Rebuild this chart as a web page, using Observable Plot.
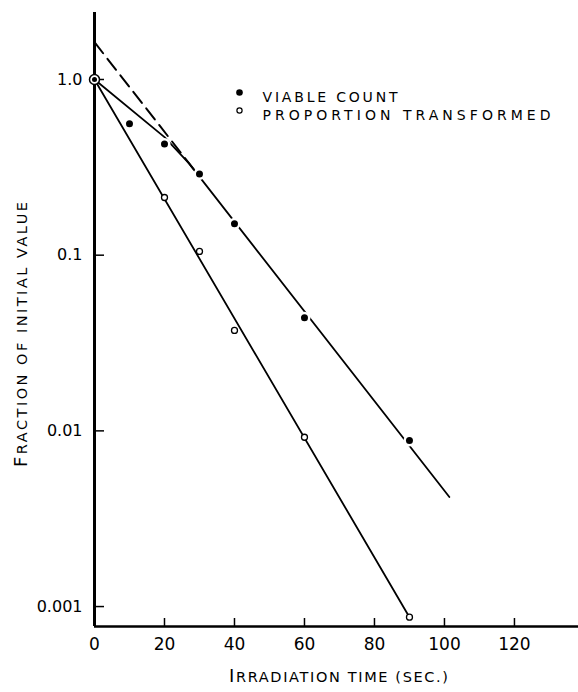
<!DOCTYPE html>
<html><head><meta charset="utf-8">
<script src="https://cdn.jsdelivr.net/npm/d3@7"></script>
<script src="https://cdn.jsdelivr.net/npm/@observablehq/plot@0.6"></script>
<style>
html,body{margin:0;padding:0;background:#fff;}
</style></head><body><div id="chart"></div>
<script>
// measured points
const viableTime  = [0, 10, 20, 30, 40, 60, 90];
const viableValue = [1.0, 0.56, 0.43, 0.29, 0.151, 0.044, 0.0088];
const transTime   = [0, 20, 30, 40, 60, 90];
const transValue  = [1.0, 0.213, 0.105, 0.0373, 0.0092, 0.00087];
// drawn curves
const viableFitTime  = [0, 20, 27, 101.4];
const viableFitValue = [1.0, 0.47, 0.333, 0.0042];
const extrapTime  = [0, 30];
const extrapValue = [1.63, 0.28];
const transFitTime  = [0, 90];
const transFitValue = [1.0, 0.00087];
// axes
const xTicks = [0, 20, 40, 60, 80, 100, 120];
const yTicks = [1, 0.1, 0.01, 0.001];
const yTickLabels = ["1.0", "0.1", "0.01", "0.001"];
const xDomain = [0, 138.3];
const yDomain = [0.00077, 2.406];
const legendLabels = ["VIABLE COUNT", "PROPORTION TRANSFORMED"];
const xTitle = "IRRADIATION TIME (SEC.)";
const yTitle = "FRACTION OF INITIAL VALUE";

const zip = (xs, ys) => xs.map((x, i) => ({x, y: ys[i]}));
const viable = zip(viableTime, viableValue);
const trans = zip(transTime, transValue);
const viableFit = zip(viableFitTime, viableFitValue);
const extrap = zip(extrapTime, extrapValue);
const transFit = zip(transFitTime, transFitValue);

const plot = Plot.plot({
  width: 578, height: 692,
  marginLeft: 94, marginRight: 0, marginTop: 12, marginBottom: 66,
  style: {fontFamily: "DejaVu Sans", background: "white", color: "black", overflow: "visible"},
  x: {domain: xDomain},
  y: {type: "log", domain: yDomain},
  marks: [
    Plot.line(extrap, {x: "x", y: "y", stroke: "black", strokeWidth: 2, strokeDasharray: "14,7"}),
    Plot.line(viableFit, {x: "x", y: "y", stroke: "black", strokeWidth: 1.8}),
    Plot.line(transFit, {x: "x", y: "y", stroke: "black", strokeWidth: 1.8}),
    Plot.ruleX([xDomain[0]], {stroke: "black", strokeWidth: 3}),
    Plot.ruleY([yDomain[0]], {stroke: "black", strokeWidth: 2.5}),
    Plot.axisY({ticks: yTicks, tickSize: 10, dx: 10, fill: "none", label: null, strokeWidth: 1.5}),
    Plot.axisY({ticks: yTicks, tickSize: 0, tickPadding: 12, fontSize: 16, label: null,
      tickFormat: d => yTickLabels[yTicks.indexOf(d)]}),
    Plot.axisX({ticks: xTicks.slice(1), tickSize: 8, dy: -8, fill: "none", label: null, strokeWidth: 1.5}),
    Plot.axisX({ticks: xTicks, tickSize: 0, tickPadding: 11, fontSize: 17, label: null}),
    // white gaps around filled dots
    Plot.dot(viable, {filter: d => d.x > 0, x: "x", y: "y", r: 6, fill: "white", stroke: null}),
    Plot.dot(trans, {filter: d => d.x > 0, x: "x", y: "y", r: 3, fill: "white", stroke: "black", strokeWidth: 1.3}),
    Plot.dot(trans, {filter: d => d.x === 0, x: "x", y: "y", r: 5, fill: "white", stroke: "black", strokeWidth: 1.5}),
    Plot.dot(viable, {filter: d => d.x > 0, x: "x", y: "y", r: 3.5, fill: "black", stroke: null}),
    Plot.dot(viable, {filter: d => d.x === 0, x: "x", y: "y", r: 2.5, fill: "black", stroke: null}),
    // legend
    Plot.dot([legendLabels[0]], {frameAnchor: "top-left", dx: 145, dy: 80, r: 3.3, fill: "black", stroke: null}),
    Plot.dot([legendLabels[1]], {frameAnchor: "top-left", dx: 145, dy: 98, r: 2.6, fill: "white", stroke: "black", strokeWidth: 1.2}),
    Plot.text([legendLabels[0]], {text: d => d, frameAnchor: "top-left", dx: 168, dy: 80, textAnchor: "start", fontSize: 14}),
    Plot.text([legendLabels[1]], {text: d => d, frameAnchor: "top-left", dx: 168, dy: 98, textAnchor: "start", fontSize: 14}),
    // titles
    Plot.text([xTitle], {text: d => d, frameAnchor: "bottom", textAnchor: "middle", dx: 2, dy: 55, fontSize: 14.5}),
    Plot.text([yTitle], {text: d => d, frameAnchor: "left", textAnchor: "middle", rotate: -90, dx: -72, dy: 15, fontSize: 14.5})
  ]
});
document.getElementById("chart").appendChild(plot);

const svg = d3.select(plot);
function sel(str) {
  return svg.selectAll("text").filter(function() { return this.textContent === str; });
}
function fit(str, len) {
  sel(str).attr("textLength", len).attr("lengthAdjust", "spacing");
}
function bigFirst(str, size) {
  sel(str).each(function() {
    const t = d3.select(this);
    t.text(null);
    t.append("tspan").attr("font-size", size).text(str[0]);
    t.append("tspan").text(str.slice(1));
  });
}
fit(legendLabels[0], 135);
fit(legendLabels[1], 288);
fit(xTitle, 219);
fit(yTitle, 265);
bigFirst(xTitle, 18);
bigFirst(yTitle, 18);
</script></body></html>
